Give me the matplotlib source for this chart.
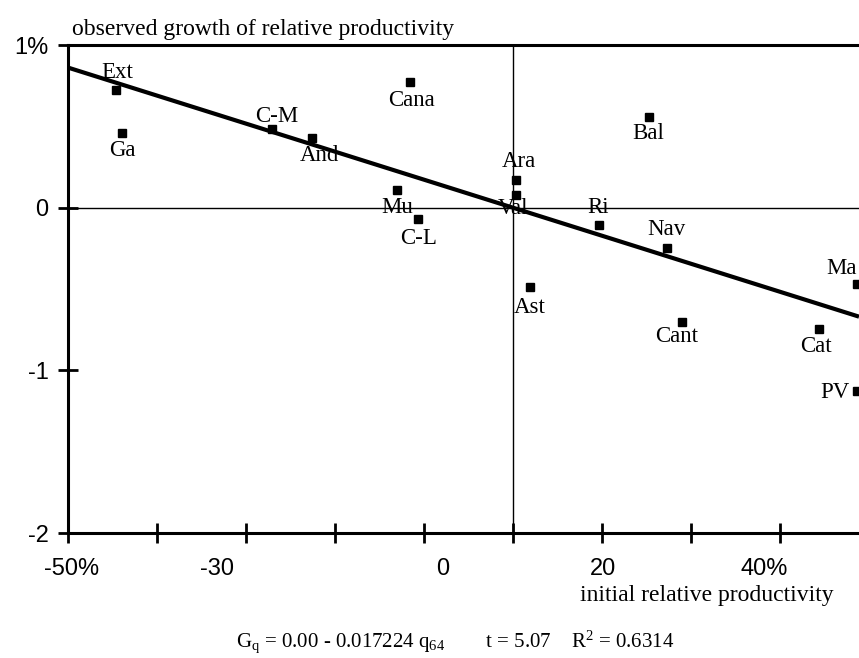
import matplotlib
matplotlib.use("Agg")
import matplotlib.pyplot as plt
import numpy as np

# ---- data ----
regions = ["Ext", "Ga", "C-M", "And", "Cana", "Mu", "C-L", "Ara", "Val",
           "Bal", "Ri", "Nav", "Ast", "Cant", "Cat", "Ma", "PV"]
initial_q = [-44.6, -43.9, -27.1, -22.6, -11.6, -13.0, -10.7, 0.3, 0.3,
             15.3, 9.7, 17.3, 1.9, 19.0, 34.4, 38.7, 38.7]
growth = [0.725, 0.46, 0.485, 0.43, 0.77, 0.11, -0.07, 0.17, 0.08,
          0.56, -0.105, -0.245, -0.49, -0.70, -0.745, -0.47, -1.13]
intercept = 0.00
slope = -0.017224

x_tick_marks = [-50, -40, -30, -20, -10, 0, 10, 20, 30]
x_label_pos = [-49.55, -33.3, -7.9, 10.1, 28.3]
x_labels = ["-50%", "-30", "0", "20", "40%"]
y_ticks = [-2, -1, 0, 1]
y_labels = ["-2", "-1", "0", "1%"]

# label offsets (pixels) relative to each point
label_offsets = {
    "Ext": (1, 17), "Ga": (0, -18), "C-M": (5, 12), "And": (8, -18),
    "Cana": (2, -18), "Mu": (0, -18), "C-L": (1, -19), "Ara": (3, 19),
    "Val": (-3, -14), "Bal": (-1, -17), "Ri": (-1, 17), "Nav": (0, 18),
    "Ast": (0, -20), "Cant": (-5, -15), "Cat": (-3, -18), "Ma": (-16, 16),
    "PV": (-22, -1),
}

serif = "Liberation Serif"
sans = "Liberation Sans"
plt.rcParams["mathtext.fontset"] = "custom"
plt.rcParams["mathtext.rm"] = serif
plt.rcParams["mathtext.it"] = serif

fig = plt.figure(figsize=(8.59, 6.58), dpi=100)
ax = fig.add_axes([68 / 859, (658 - 533) / 658, 1 - 68 / 859, (533 - 45) / 658])
ax.set_xlim(-50, 38.9)
ax.set_ylim(-2, 1)

# reference lines
ax.axhline(0, color="black", lw=1.0, zorder=1)
ax.axvline(0, color="black", lw=1.0, zorder=1)

# regression line
xl = np.array(ax.get_xlim())
ax.plot(xl, intercept + slope * xl, color="black", lw=3.0, zorder=2,
        solid_capstyle="butt")

# points
ax.plot(initial_q, growth, linestyle="none", marker="s", markersize=5.8,
        color="black", zorder=3)

for name, xq, yg in zip(regions, initial_q, growth):
    dx, dy = label_offsets[name]
    ax.annotate(name, (xq, yg), xytext=(dx, dy), textcoords="offset pixels",
                ha="center", va="center", fontsize=16.5, family=serif,
                zorder=4, annotation_clip=False)

# spines
for side in ["left", "bottom", "top"]:
    ax.spines[side].set_linewidth(2.2)
ax.spines["right"].set_visible(False)

# ticks
ax.set_xticks(x_label_pos, x_labels)
ax.set_xticks(x_tick_marks, minor=True)
ax.tick_params(axis="x", which="major", length=0, pad=18, labelsize=17)
ax.tick_params(axis="x", which="minor", direction="inout", length=14,
               width=2)
ax.set_yticks(y_ticks, y_labels)
ax.tick_params(axis="y", which="major", direction="inout", length=14,
               width=2, pad=7, labelsize=17)
for lab in ax.get_xticklabels() + ax.get_yticklabels():
    lab.set_family(sans)

# titles / labels
fig.text(72 / 859, 1 - 29 / 658, "observed growth of relative productivity",
         ha="left", va="center", fontsize=17, family=serif)
fig.text(707 / 859, 1 - 595 / 658, "initial relative productivity",
         ha="center", va="center", fontsize=17, family=serif)
fig.text(455 / 859, 1 - 642 / 658,
         r"G$_\mathrm{q}$ = 0.00 - 0.017224 q$_\mathrm{64}$        t = 5.07    R$^\mathrm{2}$ = 0.6314",
         ha="center", va="center", fontsize=15, family=serif)

fig.savefig("out.png", dpi=100)
